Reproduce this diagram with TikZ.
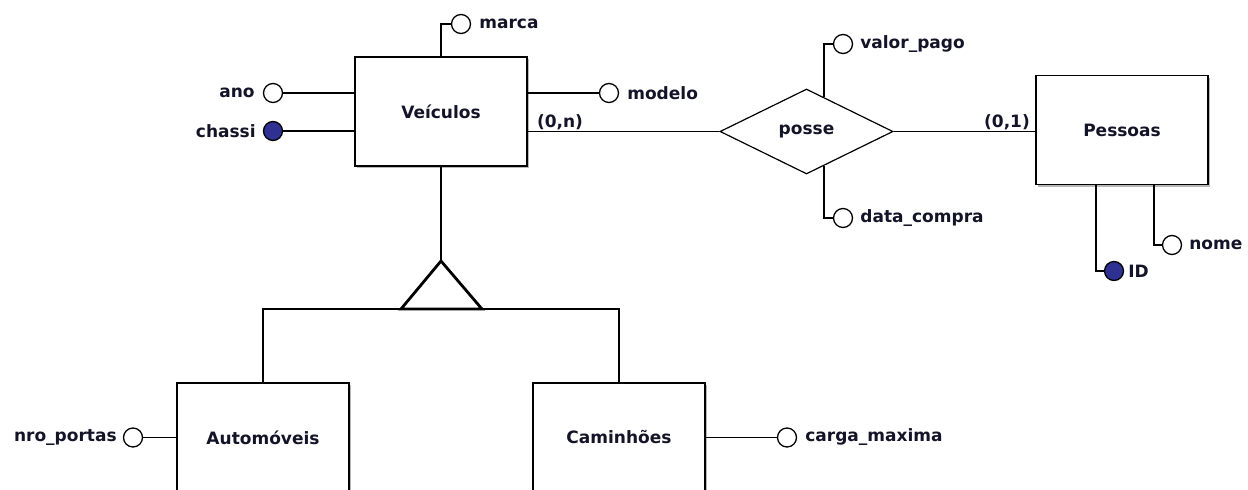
\documentclass[tikz,border=0pt]{standalone}
\usepackage{fontspec}
\setmainfont{DejaVu Sans}
\usetikzlibrary{shapes.geometric,calc,shadows,positioning}
\definecolor{keyblue}{RGB}{46,49,146}
\definecolor{ink}{RGB}{20,20,40}
\begin{document}
\begin{tikzpicture}[x=1pt,y=-1pt,
  txt/.style={font=\bfseries\fontsize{17}{20}\selectfont, text=ink},
  entity/.style={draw, line width=1.9pt, minimum width=172pt, minimum height=109pt, fill=white, inner sep=0, txt,
    drop shadow={shadow xshift=2pt, shadow yshift=-2pt, fill=black!35, opacity=0.8}},
  rel/.style={diamond, draw, line width=1.2pt, minimum width=173pt, minimum height=85pt, inner sep=0, fill=white, txt},
  attr/.style={circle, draw, line width=1.3pt, fill=white, minimum size=19pt, inner sep=0},
  keyattr/.style={attr, fill=keyblue},
  lbl/.style={txt, inner sep=0},
  conn/.style={line width=1.6pt, line join=miter}]
\useasboundingbox (0,0) rectangle (1248,490);
\clip (0,0) rectangle (1248,490);

% entities
\node[entity] (veic) at (441,111.5) {Veículos};
\node[entity] (pess) at (1122,130) {Pessoas};
\node[entity] (auto) at (263,437.5) {Automóveis};
\node[entity] (cami) at (619,437.5) {Caminhões};
\node[rel] (posse) at (806.5,131.5) {posse};

% relationship lines
\draw[conn] (veic.east |- posse.west) -- (posse.west);
\draw[conn] (posse.east) -- (posse.east -| pess.west);
\node[lbl] (cardn) at (560,122) {(0,n)};
\node[lbl] (card1) at (1007,122) {(0,1)};

% Veiculos attributes
\node[attr] (marca) at (461,24) {};
\node[lbl, right=8pt of marca] (marcaL) {marca};
\draw[conn] (veic.north) |- (marca.west);

\node[attr] (ano) at (273,93) {};
\node[lbl, left=8pt of ano] (anoL) {ano};
\draw[conn] (ano.east) -- (ano.east -| veic.west);

\node[keyattr] (chassi) at (273,131) {};
\node[lbl, left=7pt of chassi] (chassiL) {chassi};
\draw[conn] (chassi.east) -- (chassi.east -| veic.west);

\node[attr] (modelo) at (609,93) {};
\node[lbl, right=8pt of modelo] (modeloL) {modelo};
\draw[conn] (modelo.west -| veic.east) -- (modelo.west);

% posse attributes
\node[attr] (valor) at (843,44) {};
\node[lbl, right=7pt of valor] (valorL) {valor\_pago};
\coordinate (vp) at ($(posse.north)!0.2!(posse.east)$);
\draw[conn] (vp) |- (valor.west);

\node[attr] (data) at (843,218) {};
\node[lbl, right=7pt of data] (dataL) {data\_compra};
\coordinate (dc) at ($(posse.south)!0.2!(posse.east)$);
\draw[conn] (dc) |- (data.west);

% Pessoas attributes
\node[keyattr] (id) at (1114,271) {};
\node[lbl, right=4pt of id] (idL) {ID};
\draw[conn] ($(pess.south)+(-26,0)$) |- (id.west);

\node[attr] (nome) at (1172,245) {};
\node[lbl, right=7pt of nome] (nomeL) {nome};
\draw[conn] ($(pess.south)+(32,0)$) |- (nome.west);

% specialization
\coordinate (apex) at (veic.south |- 0,261);
\coordinate (bl) at (401,309);
\coordinate (br) at (482,309);
\draw[conn] (veic.south) -- (apex);
\draw[conn] (auto.north) -- (auto.north |- bl) -- (cami.north |- bl) -- (cami.north);
\draw[line width=2.8pt, line join=miter] (apex) -- (bl) -- (br) -- cycle;

% subtype attributes
\node[attr] (nro) at (133,437.5) {};
\node[lbl, left=6pt of nro] (nroL) {nro\_portas};
\draw[conn] (nro.east) -- (auto.west);

\node[attr] (carga) at (787,437.5) {};
\node[lbl, right=8pt of carga] (cargaL) {carga\_maxima};
\draw[conn] (cami.east) -- (carga.west);
\end{tikzpicture}
\end{document}
